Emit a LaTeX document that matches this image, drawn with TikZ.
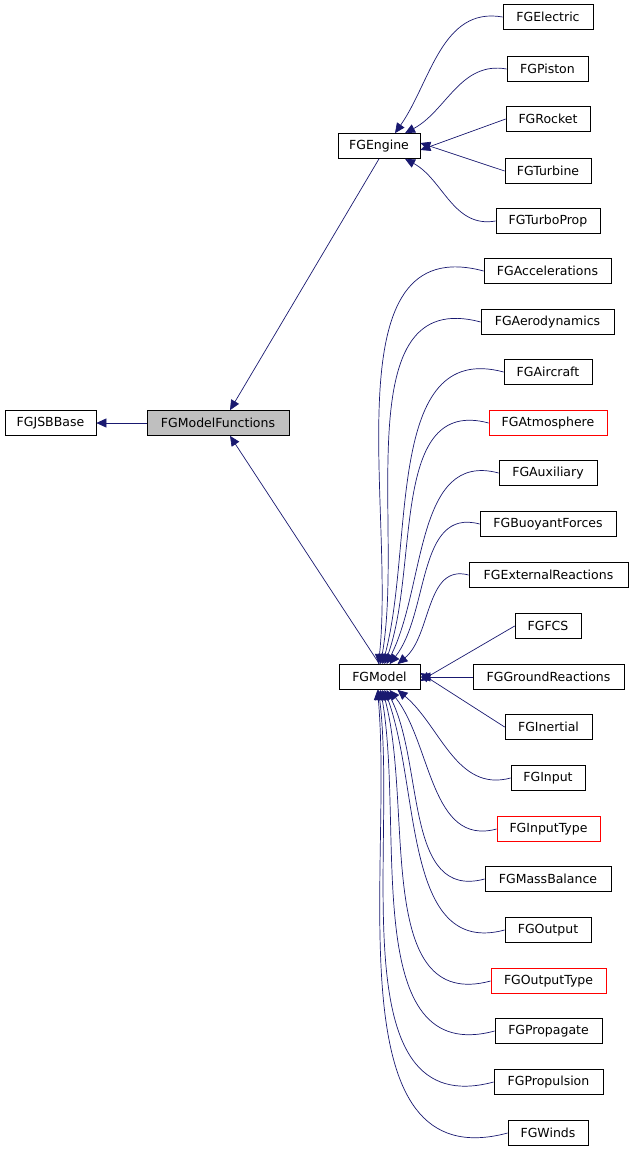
\documentclass[tikz,border=0pt]{standalone}
\usepackage{fontspec}
\setmainfont{DejaVu Sans}
\usetikzlibrary{arrows.meta,calc}
\definecolor{edge}{HTML}{191970}
\begin{document}
\begin{tikzpicture}[x=1pt,y=-1pt,
 box/.style={draw=black,line width=0.7pt,fill=white,minimum height=25pt,inner sep=0pt,font=\fontsize{12.5}{14}\selectfont},
 red/.style={box,draw=red},
 arr/.style={draw=edge,line width=0.7pt,{Triangle[length=10pt,width=9pt,fill=edge]}-}]
\useasboundingbox (0,0) rectangle (633,1152);
\node[box,minimum width=91pt] (jsb) at (50.5,423) {FGJSBBase};
\node[box,minimum width=142pt,fill={rgb,255:red,191;green,191;blue,191}] (mf) at (218,423) {FGModelFunctions};
\node[box,minimum width=82pt] (eng) at (379,146) {FGEngine};
\node[box,minimum width=81pt] (mod) at (379.5,677) {FGModel};
\foreach \n/\t/\x/\w/\y/\s in {
 el/FGElectric/548/90/17/box, pi/FGPiston/547.5/81/69/box, ro/FGRocket/548/84/119/box,
 tu/FGTurbine/548/86/171/box, tp/FGTurboProp/548/104/221/box,
 ac/FGAccelerations/547.5/127/271/box, ae/FGAerodynamics/547.5/133/322/box,
 ai/FGAircraft/548/88/372/box, at/FGAtmosphere/548/118/423/red,
 au/FGAuxiliary/548/98/473/box, bu/FGBuoyantForces/548/136/524/box,
 ex/FGExternalReactions/548.5/159/575/box, fc/FGFCS/548/66/626/box,
 gr/FGGroundReactions/548.5/151/677/box, in/FGInertial/548.5/87/727/box,
 ip/FGInput/548/74/778/box, it/FGInputType/548.5/103/829/red,
 ma/FGMassBalance/548/126/879/box, ou/FGOutput/548/86/930/box,
 ot/FGOutputType/548.5/115/981/red, pr/FGPropagate/548.5/107/1031/box,
 ps/FGPropulsion/548.5/109/1082/box, wi/FGWinds/548/80/1133/box}
 {\node[\s,minimum width=\w pt] (\n) at (\x,\y) {\t};}
% base relations
\draw[arr] (jsb.east) -- (mf.west);
\draw[arr] ([xshift=12pt]mf.north) -- (eng.south);
\draw[arr] ([xshift=12pt]mf.south) -- (mod.north);
% engine children
\draw[arr] ([xshift=16pt]eng.north) to[out=55,in=170] (el.west);
\draw[arr] ([xshift=26pt]eng.north) to[out=28,in=170] (pi.west);
\draw[arr] ([yshift=-4pt]eng.east) -- (ro.west);
\draw[arr] ([yshift=3pt]eng.east) -- (tu.west);
\draw[arr] ([xshift=26pt]eng.south) to[out=-28,in=190] (tp.west);
% model children
\foreach \n/\xo/\o in {ac/-1/84,ae/1/80,ai/3/75,at/5/70,au/7/63,bu/10/52,ex/18/40}
 \draw[arr] ([xshift=\xo pt]mod.north) to[out=\o,in=165] (\n.west);
\draw[arr] ([yshift=-4pt]mod.east) -- (fc.west);
\draw[arr] (mod.east) -- (gr.west);
\draw[arr] ([yshift=4pt]mod.east) -- (in.west);
\foreach \n/\xo/\o in {ip/18/-40,it/10/-52,ma/7/-63,ou/5/-70,ot/3/-75,pr/1/-80,ps/-1/-83,wi/-2/-85}
 \draw[arr] ([xshift=\xo pt]mod.south) to[out=\o,in=195] (\n.west);
\end{tikzpicture}
\end{document}
